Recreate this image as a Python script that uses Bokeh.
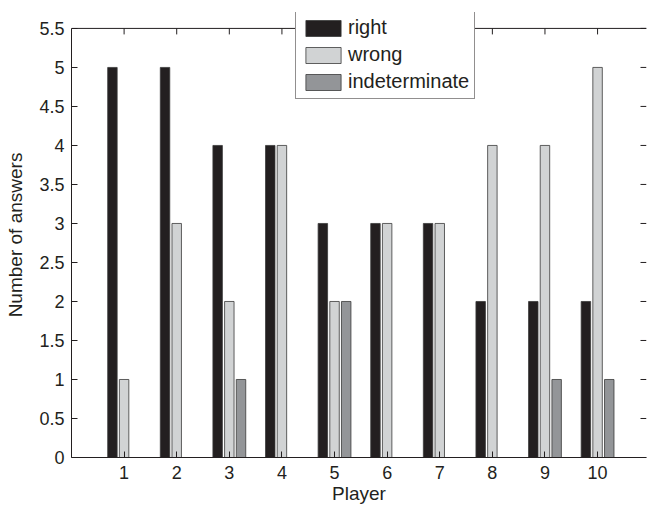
import math
from bokeh.plotting import figure
from bokeh.models import (ColumnDataSource, Range1d, FixedTicker, Legend,
                          LegendItem, Span)
from bokeh.transform import dodge
from bokeh.embed import file_html
from bokeh.resources import INLINE

# ---- data ----
players = [1, 2, 3, 4, 5, 6, 7, 8, 9, 10]
right = [5, 5, 4, 4, 3, 3, 3, 2, 2, 2]
wrong = [1, 3, 2, 4, 2, 3, 3, 4, 4, 5]
indeterminate = [0, 0, 1, 0, 2, 0, 0, 0, 1, 1]
series_names = ["right", "wrong", "indeterminate"]
y_ticks = [0, 0.5, 1, 1.5, 2, 2.5, 3, 3.5, 4, 4.5, 5, 5.5]
y_tick_labels = ["0", "0.5", "1", "1.5", "2", "2.5", "3", "3.5", "4", "4.5", "5", "5.5"]
x_label = "Player"
y_label = "Number of answers"

# ---- styles ----
FONT = "Liberation Sans"
TXT = "#231f20"
colors = ["#231f20", "#d1d3d4", "#939598"]
offsets = [-0.222, 0.0, 0.222]
BAR_W = 0.18
Y_TOP = y_ticks[-1]
X_END = 10.93
Y_END = 5.704   # a little head-room above the axis box so the legend is not clipped

source = ColumnDataSource(dict(player=players, right=right, wrong=wrong,
                               indeterminate=indeterminate))

p = figure(width=647, height=506, output_backend="svg", toolbar_location=None,
           x_range=Range1d(0, X_END), y_range=Range1d(0, Y_END),
           min_border_left=71, min_border_right=1, min_border_top=12,
           min_border_bottom=47)
p.background_fill_color = "white"
p.border_fill_color = "white"
p.outline_line_color = None
p.xgrid.visible = False
p.ygrid.visible = False

renderers = []
for name, col, off in zip(series_names, colors, offsets):
    r = p.vbar(x=dodge("player", off, range=p.x_range), top=name, bottom=0,
               width=BAR_W, source=source, fill_color=col,
               line_color="#3a3a3a", line_width=0.8)
    renderers.append(r)

def style_axis(ax):
    ax.axis_line_color = TXT
    ax.axis_line_width = 1
    ax.major_tick_in = 6
    ax.major_tick_out = 0
    ax.minor_tick_in = 0
    ax.minor_tick_out = 0
    ax.major_tick_line_color = TXT
    ax.major_label_text_font = FONT
    ax.major_label_text_color = TXT
    ax.major_label_text_font_size = "18px"
    ax.axis_label_text_font = FONT
    ax.axis_label_text_font_size = "19px"
    ax.axis_label_text_font_style = "normal"
    ax.axis_label_text_color = TXT

# bottom axis
xa = p.xaxis[0]
xa.ticker = FixedTicker(ticks=players)
style_axis(xa)
xa.major_label_standoff = 8
xa.axis_label = x_label
xa.axis_label_standoff = 1

# left axis
ya = p.yaxis[0]
ya.ticker = FixedTicker(ticks=y_ticks)
ya.major_label_overrides = {t: l for t, l in zip(y_ticks, y_tick_labels)}
style_axis(ya)
ya.bounds = (0, Y_TOP)
ya.major_label_standoff = 7
ya.axis_label = y_label
ya.axis_label_standoff = 10

# top edge of the axis box with inward ticks
p.add_layout(Span(location=Y_TOP, dimension="width", line_color=TXT, line_width=1))
p.ray(x=players, y=[Y_TOP] * len(players), length=6, length_units="screen",
      angle=-math.pi / 2, line_color=TXT, line_width=1)
# right-hand inward ticks (the box edge itself is cut off in the reference)
p.ray(x=[X_END] * len(y_ticks), y=y_ticks, length=6, length_units="screen",
      angle=math.pi, line_color=TXT, line_width=1)

legend = Legend(items=[LegendItem(label=n, renderers=[r])
                       for n, r in zip(series_names, renderers)],
                location=(224, 358), orientation="vertical")
legend.label_text_font = FONT
legend.label_text_font_size = "20px"
legend.label_text_color = TXT
legend.glyph_width = 44
legend.glyph_height = 20
legend.label_height = 20
legend.label_standoff = 3
legend.spacing = 4
legend.padding = 5
legend.margin = 0
legend.border_line_color = TXT
legend.border_line_width = 1
legend.background_fill_color = "white"
legend.background_fill_alpha = 1
p.add_layout(legend)

open("out.html", "w").write(file_html(p, INLINE))
